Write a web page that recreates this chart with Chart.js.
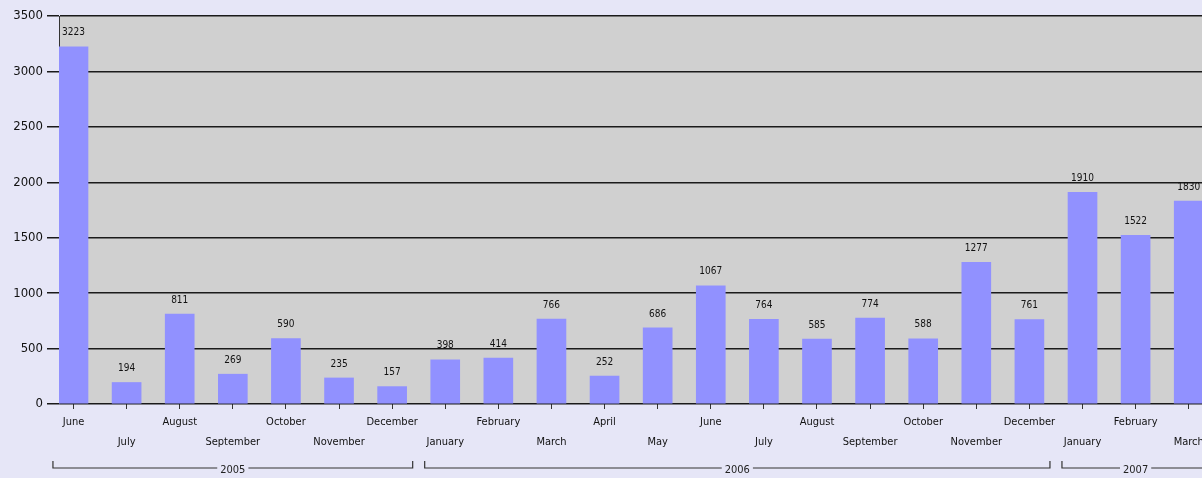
<!DOCTYPE html>
<html lang="en">
<head>
  <meta charset="UTF-8" />
  <title>Monthly totals 2005-2007</title>
  <script src="https://cdn.jsdelivr.net/npm/chart.js"></script>
  <style>
    html, body { margin: 0; padding: 0; background: #e6e6f7; overflow: hidden; }
  </style>
</head>
<body>
  <canvas id="chart" width="1202" height="478"></canvas>

  <script>
    // data
    const months = ["June", "July", "August", "September", "October", "November", "December",
      "January", "February", "March", "April", "May", "June", "July", "August", "September",
      "October", "November", "December", "January", "February", "March"];
    const values = [3223, 194, 811, 269, 590, 235, 157, 398, 414, 766, 252, 686, 1067, 764,
      585, 774, 588, 1277, 761, 1910, 1522, 1830];
    const years = ["2005", "2006", "2007"];
    const yearFirst = [0, 7, 19];
    const yearLast = [6, 18, 21];
    const yTicks = [0, 500, 1000, 1500, 2000, 2500, 3000, 3500];

    const narrow = '"DejaVu Sans Condensed", "Liberation Sans Narrow", Arial, sans-serif';

    // grey plot background
    const plotBg = {
      id: "plotBg",
      beforeDraw(chart) {
        const { ctx, chartArea: a } = chart;
        ctx.save();
        ctx.fillStyle = "#d0d0d0";
        ctx.fillRect(a.left, a.top, a.right - a.left, a.bottom - a.top);
        ctx.restore();
      }
    };

    // numbers above the bars
    const valueLabels = {
      id: "valueLabels",
      afterDatasetsDraw(chart) {
        const ctx = chart.ctx;
        ctx.save();
        ctx.font = "10px " + narrow;
        ctx.fillStyle = "#111";
        ctx.textAlign = "center";
        ctx.textBaseline = "middle";
        chart.getDatasetMeta(0).data.forEach((bar, i) => {
          ctx.fillText(values[i], bar.x, bar.y - 14);
        });
        ctx.restore();
      }
    };

    // year brackets under the month labels
    const yearBrackets = {
      id: "yearBrackets",
      afterDraw(chart) {
        const ctx = chart.ctx;
        const x = chart.scales.x;
        const y = 468;
        ctx.save();
        ctx.font = "11px " + narrow;
        ctx.fillStyle = "#222";
        ctx.strokeStyle = "#333";
        ctx.lineWidth = 1.2;
        ctx.textAlign = "center";
        ctx.textBaseline = "middle";
        years.forEach((yr, k) => {
          const a = x.getPixelForValue(yearFirst[k] - 0.5) + 6;
          const b = x.getPixelForValue(yearLast[k] + 0.5) - 6;
          const mid = (a + b) / 2;
          const half = ctx.measureText(yr).width / 2 + 3;
          ctx.beginPath();
          ctx.moveTo(a, y - 7);
          ctx.lineTo(a, y);
          ctx.lineTo(mid - half, y);
          ctx.moveTo(mid + half, y);
          ctx.lineTo(b, y);
          ctx.lineTo(b, y - 7);
          ctx.stroke();
          ctx.fillText(yr, mid, y + 2);
        });
        ctx.restore();
      }
    };

    new Chart(document.getElementById("chart"), {
      type: "bar",
      data: {
        datasets: [{
          data: values.map((v, i) => ({ x: i, y: v })),
          backgroundColor: "#9191ff",
          borderWidth: 0,
          barThickness: 29
        }]
      },
      options: {
        responsive: false,
        animation: false,
        devicePixelRatio: 1,
        layout: { padding: { top: 16, right: 0, left: 0, bottom: 0 } },
        plugins: { legend: { display: false }, tooltip: { enabled: false } },
        scales: {
          x: {
            type: "linear",
            offset: false,
            min: -0.273,
            max: 21.25,
            afterBuildTicks: axis => { axis.ticks = months.map((m, i) => ({ value: i })); },
            afterFit: s => { s.height = 74; s.paddingLeft = 0; s.paddingRight = 0; },
            grid: { drawOnChartArea: false, drawTicks: true, tickLength: 5, color: "#333", offset: false },
            border: { display: false },
            ticks: {
              autoSkip: false,
              maxRotation: 0,
              padding: 3,
              color: "#111",
              font: { family: narrow, size: 11, lineHeight: 1.85 },
              callback: v => (v % 2 === 0 ? months[v] : ["", months[v]])
            }
          },
          y: {
            min: 0,
            max: 3500,
            afterBuildTicks: axis => { axis.ticks = yTicks.map(v => ({ value: v })); },
            afterFit: s => { s.width = 59; },
            grid: { color: "#1a1a1a", lineWidth: 1.5, tickLength: 12 },
            border: { display: true, color: "#333", width: 1 },
            ticks: {
              padding: 4,
              color: "#111",
              font: { family: narrow, size: 13 },
              callback: v => String(v)
            }
          }
        }
      },
      plugins: [plotBg, valueLabels, yearBrackets]
    });
  </script>
</body>
</html>
